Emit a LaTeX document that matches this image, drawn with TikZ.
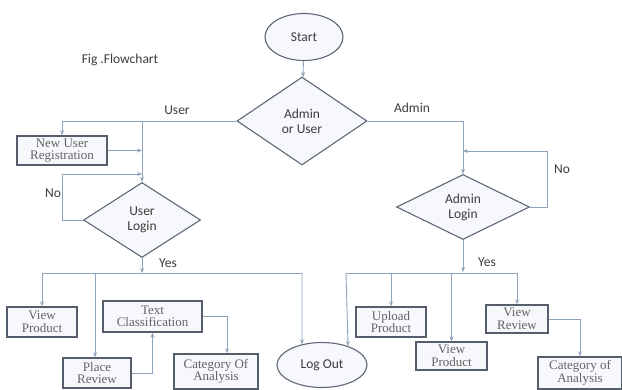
\documentclass[tikz,border=0pt]{standalone}
\usepackage{fontspec}
\setmainfont{Liberation Serif}
\newfontfamily\calfont{Carlito}
\usetikzlibrary{shapes.geometric,arrows.meta}
\definecolor{conn}{HTML}{8FA3BD}
\definecolor{edge}{HTML}{5E6876}
\definecolor{fillc}{HTML}{F6F8FB}
\definecolor{txt}{HTML}{3C3C3C}
\tikzset{
  conn/.style={draw=conn, line width=0.9pt},
  arr/.style={conn, -{Stealth[length=5pt,width=4pt]}},
  term/.style={ellipse, draw=edge, line width=1.1pt, fill=fillc, inner sep=0pt,
    font=\calfont\fontsize{13.5}{14}\selectfont, text=txt},
  dec/.style={diamond, draw=edge, line width=1.1pt, fill=fillc, inner sep=0pt,
    font=\calfont\fontsize{13.5}{15}\selectfont, text=txt, align=center},
  proc/.style={rectangle, draw=edge!90!black, line width=1.4pt, fill=fillc, inner sep=0pt,
    font=\fontsize{13}{12.5}\selectfont, text=txt!80, align=center},
  lbl/.style={font=\calfont\fontsize{13.5}{14}\selectfont, text=txt, inner sep=0pt}
}
\begin{document}
\begin{tikzpicture}[x=1pt,y=-1pt]
\useasboundingbox (0,0) rectangle (622,390);
% nodes
\node[lbl] (fig) at (120,60) {Fig .Flowchart};
\node[term, minimum width=78pt, minimum height=47pt] (start) at (304,37) {Start};
\node[dec, minimum width=130pt, minimum height=88pt] (au) at (302,121) {Admin\\or User};
\node[proc, minimum width=90pt, minimum height=29pt] (nur) at (62,150.5) {New User\\Registration};
\node[dec, minimum width=117pt, minimum height=75pt] (ul) at (142,220) {User\\Login};
\node[dec, minimum width=133pt, minimum height=65pt] (al) at (463,207) {Admin\\Login};
\node[proc, minimum width=70pt, minimum height=30pt] (vp1) at (42,322) {View\\Product};
\node[proc, minimum width=99pt, minimum height=31pt] (tc) at (152.5,316.5) {Text\\Classification};
\node[proc, minimum width=68pt, minimum height=30pt] (pr) at (97,373) {Place\\Review};
\node[proc, minimum width=84pt, minimum height=35pt] (coa1) at (216,371.5) {Category Of\\Analysis};
\node[term, minimum width=90pt, minimum height=45pt] (lo) at (322,365) {Log Out};
\node[proc, minimum width=70pt, minimum height=30pt] (up) at (391,322) {Upload\\Product};
\node[proc, minimum width=71pt, minimum height=28pt] (vp2) at (451.5,356) {View\\Product};
\node[proc, minimum width=62pt, minimum height=28pt] (vr) at (517,319) {View\\Review};
\node[proc, minimum width=84pt, minimum height=32pt] (coa2) at (580,373) {Category of\\Analysis};
% labels
\node[lbl] (luser) at (177,110) {User};
\node[lbl] (ladmin) at (412,108) {Admin};
\node[lbl] (lno1) at (53,193) {No};
\node[lbl] (lno2) at (562,169) {No};
\node[lbl] (lyes1) at (168,263) {Yes};
\node[lbl] (lyes2) at (487,262) {Yes};
% coordinates
\coordinate (uj) at (142,121);
\coordinate (ub) at (42,273);
\coordinate (ue) at (302,273);
\coordinate (ab) at (346,273);
\coordinate (ae) at (517,273);
% connectors
\draw[arr] (start) -- (au);
\draw[arr] (au.west) -| (nur.north);
\draw[arr] (uj) -- (ul.north);
\draw[arr] (nur.east) -- (nur.east -| uj);
\draw[arr] (ul.west) -- ++(-20.5,0) |- (142,174);
\draw[arr] (ul.south) -- (142,273);
\draw[conn] (ub) -- (ue);
\draw[arr] (ub) -- (vp1.north);
\draw[arr] (95,273) -- (95,0 |- pr.north);
\draw[arr] (ue) -- (lo.134.7);
\draw[arr] (pr.east) -| (tc.south);
\draw[arr] (tc.east) -| ([xshift=11pt]coa1.north);
\draw[arr] (au.east) -| (al.north);
\draw[arr] (al.east) -- ++(17,0) |- (463,151);
\draw[arr] (al.south) -- (463,272);
\draw[conn] (ab) -- (ae);
\draw[arr] (ab) -- (lo.36.8);
\draw[arr] (391,273) -- (up.north);
\draw[arr] (451.5,273) -- (vp2.north);
\draw[arr] (ae) -- (vr.north);
\draw[arr] (vr.east) -| (coa2.north);
\end{tikzpicture}
\end{document}
